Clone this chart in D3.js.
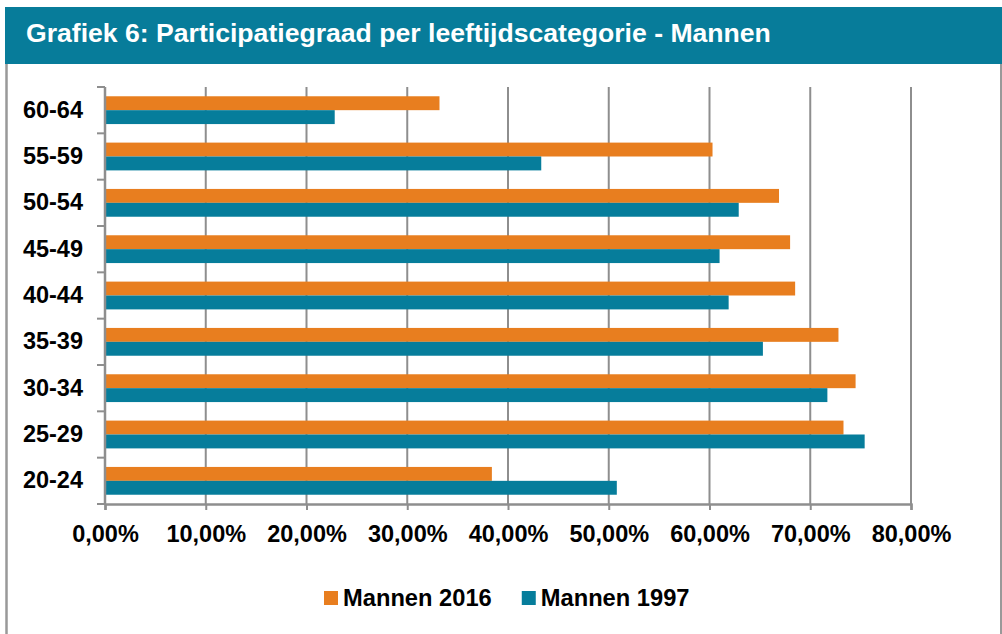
<!DOCTYPE html>
<html>
<head>
<meta charset="utf-8">
<script src="https://d3js.org/d3.v7.min.js"></script>
<style>
	body { margin: 0; background: #fff; }
	svg text { font-family: "Liberation Sans", Arial, Helvetica, sans-serif; font-weight: bold; }
</style>
</head>
<body>
<div id="chart"></div>
<script>

// categories, top to bottom as in the picture
var categories = ["60-64", "55-59", "50-54", "45-49", "40-44", "35-39", "30-34", "25-29", "20-24"];

var seriesNames = ["Mannen 2016", "Mannen 1997"];
var seriesColors = ["#E87E1F", "#067D9B"];

// participatiegraad, as fractions
var mannen2016 = [0.332, 0.603, 0.669, 0.680, 0.685, 0.728, 0.745, 0.733, 0.384];
var mannen1997 = [0.228, 0.433, 0.629, 0.610, 0.619, 0.653, 0.717, 0.754, 0.508];

var xTicks = [0, 0.1, 0.2, 0.3, 0.4, 0.5, 0.6, 0.7, 0.8];

var titleText = "Grafiek 6: Participatiegraad per leeftijdscategorie - Mannen";


var width = 1002, height = 634;
var teal = "#077C9A";
var gridColor = "#8E8E8E";

var svg = d3.select("#chart").append("svg")
	.attr("width", width)
	.attr("height", height);

svg.append("rect").attr("width", width).attr("height", height).attr("fill", "#fff");

// frame lines left and right
svg.append("line").attr("x1", 6.5).attr("x2", 6.5).attr("y1", 7).attr("y2", height)
	.style("stroke", "#999").style("stroke-width", 2.5);
svg.append("line").attr("x1", 1001).attr("x2", 1001).attr("y1", 7).attr("y2", height)
	.style("stroke", "#999").style("stroke-width", 2);

// title bar
svg.append("rect")
	.attr("x", 5).attr("y", 7)
	.attr("width", width - 5).attr("height", 57)
	.attr("fill", teal);

svg.append("text")
	.attr("x", 26).attr("y", 42)
	.attr("fill", "#fff")
	.style("font-size", "26.6px")
	.text(titleText);


var plotLeft = 105, plotRight = 911, plotTop = 87, plotBottom = 504;

var x = d3.scaleLinear().domain([0, 0.8]).range([plotLeft, plotRight]);

var y = d3.scaleBand()
	.domain(categories)
	.range([plotTop, plotBottom])
	.paddingInner(0.4)
	.paddingOuter(0.2);

var ySub = d3.scaleBand().domain(seriesNames).range([0, y.bandwidth()]);

var nl = d3.formatLocale({ decimal: ",", thousands: ".", grouping: [3], currency: ["€", ""] });
var pct = nl.format(".2%");


// vertical gridlines
svg.append("g").selectAll("line")
	.data(xTicks.slice(1))
	.enter()
	.append("line")
	.attr("x1", d => x(d)).attr("x2", d => x(d))
	.attr("y1", plotTop).attr("y2", plotBottom)
	.style("stroke", gridColor)
	.style("stroke-width", 2);


// bars
var rows = categories.map(function(c, i) {
	return { cat: c, values: [mannen2016[i], mannen1997[i]] };
});

var group = svg.append("g").selectAll("g")
	.data(rows)
	.enter()
	.append("g")
	.attr("transform", d => "translate(0," + y(d.cat) + ")");

group.selectAll("rect")
	.data(d => d.values.map((v, j) => ({ name: seriesNames[j], value: v, color: seriesColors[j] })))
	.enter()
	.append("rect")
	.attr("x", x(0))
	.attr("y", d => ySub(d.name))
	.attr("width", d => x(d.value) - x(0))
	.attr("height", ySub.bandwidth())
	.attr("fill", d => d.color);


// x axis
var xAxis = svg.append("g")
	.attr("transform", "translate(0," + plotBottom + ")")
	.call(d3.axisBottom(x).tickValues(xTicks).tickSize(6).tickPadding(15).tickFormat(pct));

xAxis.select(".domain").style("stroke", gridColor).style("stroke-width", 2.5);
xAxis.selectAll(".tick line").style("stroke", gridColor).style("stroke-width", 2);
xAxis.selectAll("text").style("font-size", "23.5px").attr("fill", "#000");


// y axis: labels in the middle of the bands, little ticks between them
var yAxis = svg.append("g")
	.attr("transform", "translate(" + plotLeft + ",0)")
	.call(d3.axisLeft(y).tickSize(0).tickPadding(22));

yAxis.select(".domain").remove();
yAxis.selectAll("text").style("font-size", "23.5px").attr("fill", "#000");

var step = y.step();
var edges = d3.range(categories.length + 1).map(i => plotTop + i * step);

svg.append("g").selectAll("line")
	.data(edges)
	.enter()
	.append("line")
	.attr("x1", plotLeft - 8).attr("x2", plotLeft)
	.attr("y1", d => d).attr("y2", d => d)
	.style("stroke", gridColor)
	.style("stroke-width", 2);

svg.append("line")
	.attr("x1", plotLeft).attr("x2", plotLeft)
	.attr("y1", plotTop).attr("y2", plotBottom)
	.style("stroke", gridColor)
	.style("stroke-width", 2.5);


// legend
var legend = svg.append("g").attr("transform", "translate(324,591)");
var lx = 0;
seriesNames.forEach(function(name, i) {
	var item = legend.append("g").attr("transform", "translate(" + lx + ",0)");
	item.append("rect").attr("width", 14).attr("height", 14).attr("fill", seriesColors[i]);
	var t = item.append("text")
		.attr("x", 19).attr("y", 14.5)
		.style("font-size", "23.7px")
		.attr("fill", "#000")
		.text(name);
	lx += 19 + t.node().getComputedTextLength() + 30;
});

</script>
</body>
</html>
